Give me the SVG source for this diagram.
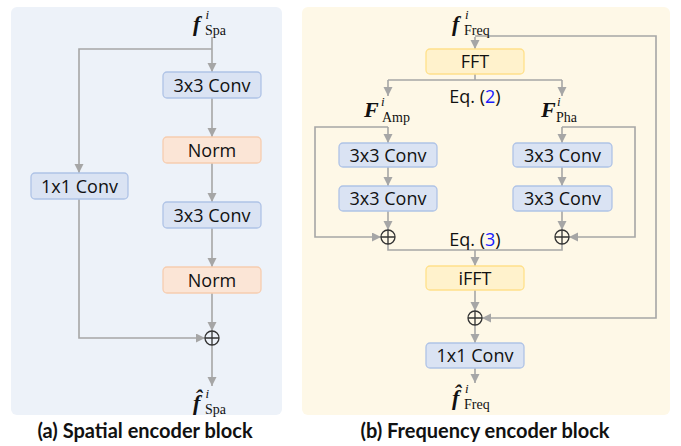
<svg xmlns="http://www.w3.org/2000/svg" width="681" height="446" viewBox="0 0 681 446">
<defs>
<marker id="ah" markerUnits="userSpaceOnUse" markerWidth="10" markerHeight="10" refX="9" refY="4.5" orient="auto">
<path d="M0,0 L9,4.5 L0,9 z" fill="#A6A6A6"/>
</marker>
<style>
.panelA{fill:#EDF2F9}
.panelB{fill:#FEF8E7}
.blue{fill:#DAE3F3;stroke:#AFC3E6;stroke-width:1.3}
.orange{fill:#FBE5D6;stroke:#F6CDB0;stroke-width:1.3}
.yellow{fill:#FFF2CC;stroke:#FFE08A;stroke-width:1.3}
.lbl{font-family:"Open Sans","DejaVu Sans",sans-serif;font-size:18px;fill:#111;text-anchor:middle}
.cap{font-family:Lato,"Liberation Sans",sans-serif;font-weight:bold;font-size:20px;fill:#111;text-anchor:middle}
.c{fill:none;stroke:#A6A6A6;stroke-width:1.6}
.a{marker-end:url(#ah)}
.op{fill:none;stroke:#333;stroke-width:1.3}
.m{font-family:"Liberation Serif","DejaVu Serif",serif;font-size:14px;fill:#111}
.mf{font-family:"Liberation Serif","DejaVu Serif",serif;font-weight:bold;font-style:italic;font-size:22px;fill:#111}
.ms{font-family:"Liberation Serif","DejaVu Serif",serif;font-style:italic;font-size:13px;fill:#111}
.eqn{fill:#1a1aff}
</style>
</defs>

<rect class="panelA" x="11" y="7" width="271" height="408" rx="6"/>
<rect class="panelB" x="302" y="7" width="368" height="408" rx="6"/>

<g id="connectors">
<path class="c a" d="M212,37 V72"/>
<path class="c a" d="M212,49 H79 V173"/>
<path class="c a" d="M212,98 V137"/>
<path class="c a" d="M212,163 V202"/>
<path class="c a" d="M212,227 V267"/>
<path class="c a" d="M212,292 V331"/>
<path class="c a" d="M79,199 V338 H205"/>
<path class="c a" d="M212,345 V386"/>

<path class="c a" d="M475,37 V49"/>
<path class="c a" d="M475,36 H656 V318 H482"/>
<path class="c" d="M475,74 V80 M388,80 H562"/>
<path class="c a" d="M388,80 V96"/>
<path class="c a" d="M562,80 V96"/>
<path class="c a" d="M388,127 V143"/>
<path class="c a" d="M562,127 V143"/>
<path class="c a" d="M388,127 H315 V237 H381"/>
<path class="c a" d="M562,127 H635 V237 H569"/>
<path class="c a" d="M388,167 V186"/>
<path class="c a" d="M562,167 V186"/>
<path class="c a" d="M388,211 V230"/>
<path class="c a" d="M562,211 V230"/>
<path class="c" d="M388,244 V250 H562 V244"/>
<path class="c a" d="M475,250 V266"/>
<path class="c a" d="M475,290 V311"/>
<path class="c a" d="M475,325 V343"/>
<path class="c a" d="M475,368 V383"/>
</g>

<g id="in-spa">
<text class="mf" x="193" y="31">f</text>
<text class="ms" x="205.5" y="19">i</text>
<text class="m" x="205" y="34.5">Spa</text>
</g>
<g id="conv3-a1"><rect class="blue" x="163" y="72" width="98" height="26" rx="4"/><text class="lbl" x="212" y="91.5">3x3 Conv</text></g>
<g id="norm-a1"><rect class="orange" x="163" y="137" width="98" height="26" rx="4"/><text class="lbl" x="212" y="156.5">Norm</text></g>
<g id="conv3-a2"><rect class="blue" x="163" y="202" width="98" height="26" rx="4"/><text class="lbl" x="212" y="221.5">3x3 Conv</text></g>
<g id="norm-a2"><rect class="orange" x="163" y="267" width="98" height="26" rx="4"/><text class="lbl" x="212" y="286.5">Norm</text></g>
<g id="conv1-a"><rect class="blue" x="31" y="173" width="97" height="26" rx="4"/><text class="lbl" x="79.5" y="192.5">1x1 Conv</text></g>
<g id="add-a"><circle class="op" cx="212" cy="338" r="7"/><path class="op" d="M205,338 H219 M212,331 V345"/></g>
<g id="out-spa">
<text class="mf" x="193" y="410">f̂</text>
<text class="ms" x="205.5" y="398">i</text>
<text class="m" x="205" y="413.5">Spa</text>
</g>
<text class="cap" x="145" y="438">(a) Spatial encoder block</text>

<g id="in-freq">
<text class="mf" x="452" y="31">f</text>
<text class="ms" x="465" y="19">i</text>
<text class="m" x="464" y="34.5">Freq</text>
</g>
<g id="fft"><rect class="yellow" x="426" y="49" width="98" height="25" rx="4"/><text class="lbl" x="475" y="68">FFT</text></g>
<text class="lbl" x="475" y="103">Eq. (<tspan class="eqn">2</tspan>)</text>
<g id="amp">
<text class="mf" x="364" y="117">F</text>
<text class="ms" x="381" y="106">i</text>
<text class="m" x="382" y="121.5">Amp</text>
</g>
<g id="pha">
<text class="mf" x="541" y="117">F</text>
<text class="ms" x="557" y="106">i</text>
<text class="m" x="556" y="121.5">Pha</text>
</g>
<g id="conv3-b1"><rect class="blue" x="339" y="143" width="98" height="24" rx="4"/><text class="lbl" x="388" y="161.5">3x3 Conv</text></g>
<g id="conv3-b2"><rect class="blue" x="339" y="186" width="98" height="25" rx="4"/><text class="lbl" x="388" y="205">3x3 Conv</text></g>
<g id="conv3-b3"><rect class="blue" x="513" y="143" width="99" height="24" rx="4"/><text class="lbl" x="562.5" y="161.5">3x3 Conv</text></g>
<g id="conv3-b4"><rect class="blue" x="513" y="186" width="99" height="25" rx="4"/><text class="lbl" x="562.5" y="205">3x3 Conv</text></g>
<g id="add-b1"><circle class="op" cx="388" cy="237" r="7"/><path class="op" d="M381,237 H395 M388,230 V244"/></g>
<g id="add-b2"><circle class="op" cx="562" cy="237" r="7"/><path class="op" d="M555,237 H569 M562,230 V244"/></g>
<text class="lbl" x="475" y="246">Eq. (<tspan class="eqn">3</tspan>)</text>
<g id="ifft"><rect class="yellow" x="426" y="266" width="98" height="24" rx="4"/><text class="lbl" x="475" y="284.5">iFFT</text></g>
<g id="add-b3"><circle class="op" cx="475" cy="318" r="7"/><path class="op" d="M468,318 H482 M475,311 V325"/></g>
<g id="conv1-b"><rect class="blue" x="426" y="343" width="98" height="25" rx="4"/><text class="lbl" x="475" y="362">1x1 Conv</text></g>
<g id="out-freq">
<text class="mf" x="452" y="405">f̂</text>
<text class="ms" x="465" y="393">i</text>
<text class="m" x="464" y="408.5">Freq</text>
</g>
<text class="cap" x="485" y="438">(b) Frequency encoder block</text>
</svg>
